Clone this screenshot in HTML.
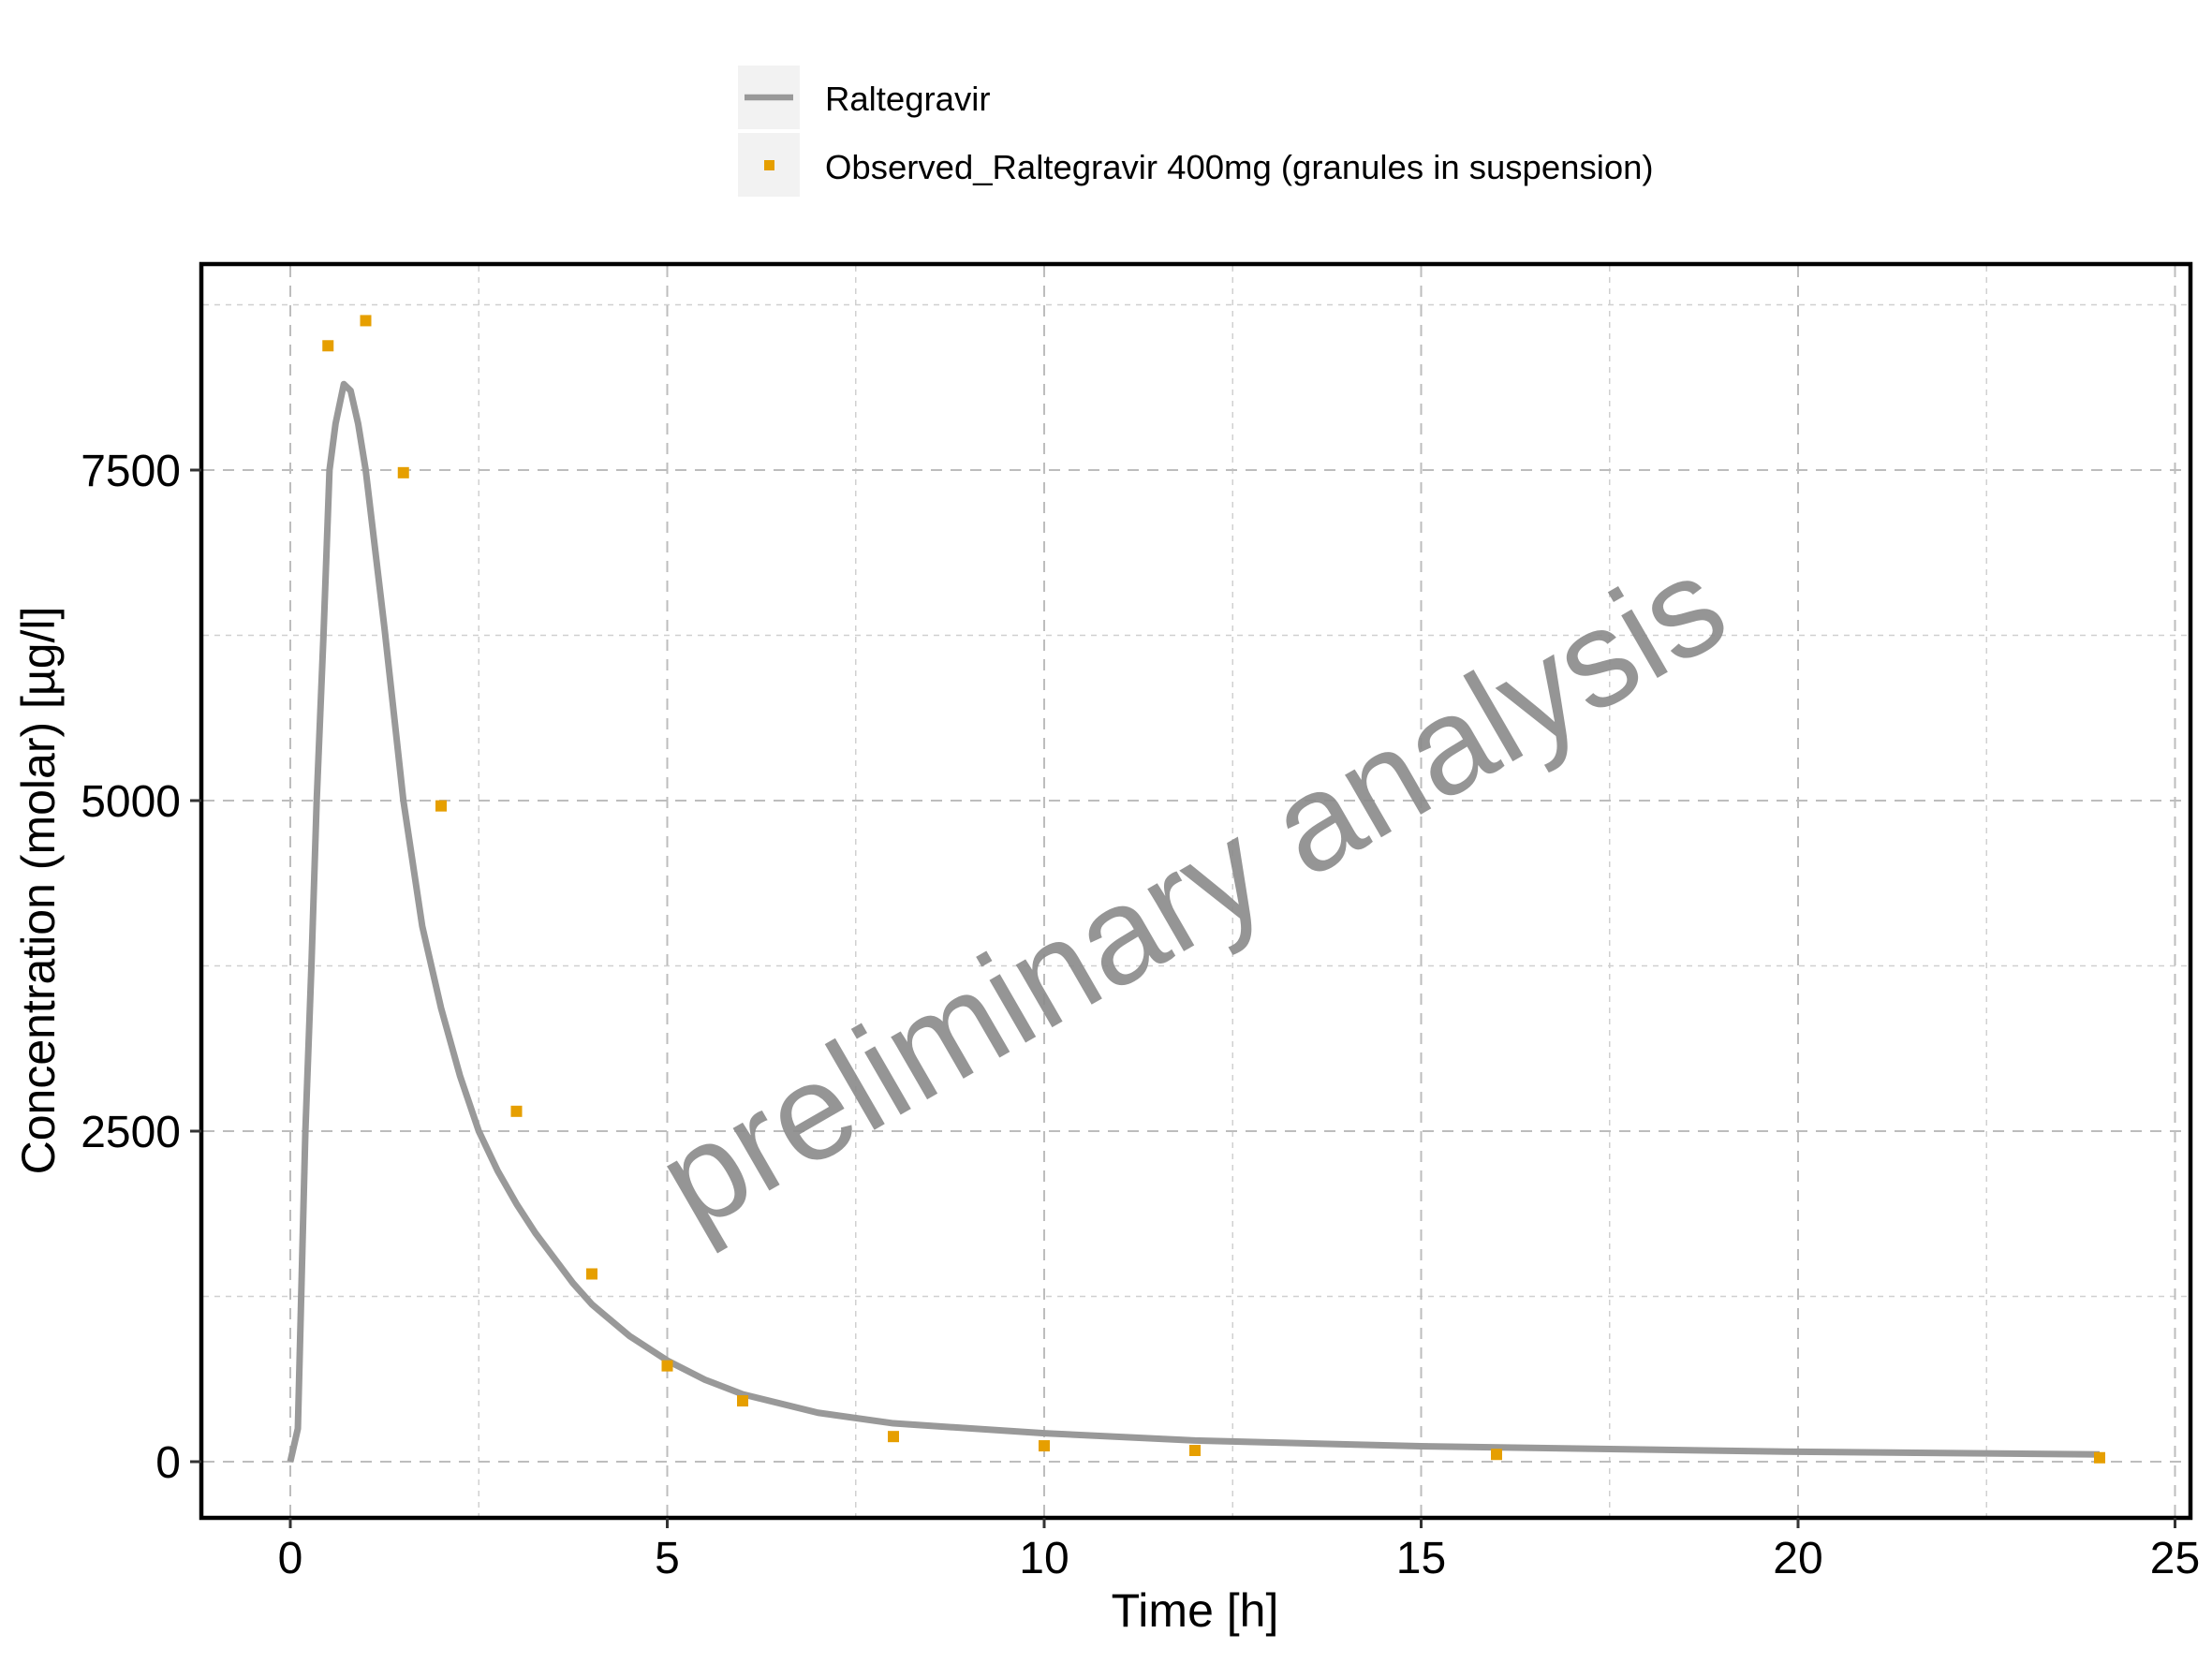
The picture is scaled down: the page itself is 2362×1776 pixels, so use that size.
<!DOCTYPE html>
<html><head><meta charset="utf-8"><style>
html,body{margin:0;padding:0;background:#fff}
svg text{font-family:"Liberation Sans",Arial,sans-serif}
</style></head><body>
<svg id="chart" width="2362" height="1771" viewBox="0 0 2362 1771" xmlns="http://www.w3.org/2000/svg">
<rect width="2362" height="1771" fill="#fff"/>
<g id="grid"></g>
<g id="series"></g>
<rect x="215" y="282" width="2124" height="1339" fill="none" stroke="#000" stroke-width="4.5"/>
<g id="axes"></g>
<text x="1285" y="1000" font-size="146" fill="#8a8a8a" fill-opacity="0.9" text-anchor="middle" transform="rotate(-30 1285 975)">preliminary analysis</text>
<text x="1276" y="1737" font-size="50" text-anchor="middle" fill="#000">Time [h]</text>
<text x="58" y="951" font-size="50" text-anchor="middle" fill="#000" transform="rotate(-90 58 951)">Concentration (molar) [µg/l]</text>
<g>
<rect x="788" y="70" width="66" height="68" fill="#f2f2f2"/>
<line x1="795" y1="104" x2="847" y2="104" stroke="#999" stroke-width="6.5"/>
<text x="881" y="118" font-size="36.5" fill="#000">Raltegravir</text>
<rect x="788" y="142" width="66" height="68" fill="#f2f2f2"/>
<rect x="816" y="171" width="11" height="11" fill="#E69F00"/>
<text x="881" y="191" font-size="36.5" fill="#000">Observed_Raltegravir 400mg (granules in suspension)</text>
</g>
</svg>
<script>
const xTicks=[0,5,10,15,20,25];
const xMinor=[2.5,7.5,12.5,17.5,22.5];
const yTicks=[0,2500,5000,7500];
const yMinor=[1250,3750,6250,8750];
const simTime=[0,0.1,0.2,0.28,0.35,0.44,0.52,0.6,0.71,0.8,0.9,1.0,1.25,1.5,1.75,2,2.25,2.5,2.75,3,3.25,3.5,3.75,4,4.5,5,5.5,6,7,8,10,12,15,20,24];
const simConc=[0,250,2500,3750,5000,6250,7500,7850,8150,8100,7850,7500,6300,5000,4050,3430,2920,2500,2200,1950,1730,1540,1350,1190,950,765,620,510,370,290,215,160,117,75,55];
const obsTime=[0.5,1,1.5,2,3,4,5,6,8,10,12,16,24];
const obsConc=[8440,8630,7480,4960,2650,1420,725,460,190,120,85,55,30];
const NS='http://www.w3.org/2000/svg';
function sx(v){return 310+v*80.5;}
function sy(v){return 1561-v*(353/2500);}
function el(t,a,p){const e=document.createElementNS(NS,t);for(const k in a)e.setAttribute(k,a[k]);p.appendChild(e);return e;}
const grid=document.getElementById('grid'),axes=document.getElementById('axes'),ser=document.getElementById('series');
xMinor.forEach(v=>{const l=el('line',{x1:sx(v),x2:sx(v),y1:284,y2:1619,stroke:'#d0d0d0','stroke-width':1.5,'stroke-dasharray':'6 6'},grid);

});
yMinor.forEach(v=>{const l=el('line',{x1:217,x2:2337,y1:sy(v),y2:sy(v),stroke:'#d0d0d0','stroke-width':1.5,'stroke-dasharray':'6 6'},grid);

});
xTicks.forEach(v=>{const l=el('line',{x1:sx(v),x2:sx(v),y1:284,y2:1619,stroke:'#bdbdbd','stroke-width':2,'stroke-dasharray':'12 9'},grid);


const t=el('line',{x1:sx(v),x2:sx(v),y1:1621,y2:1632,stroke:'#333','stroke-width':3},axes);


const tx=el('text',{x:sx(v),y:1680,'font-size':48,'text-anchor':'middle',fill:'#000'},axes);tx.textContent=v;

});
yTicks.forEach(v=>{const l=el('line',{x1:217,x2:2337,y1:sy(v),y2:sy(v),stroke:'#bdbdbd','stroke-width':2,'stroke-dasharray':'12 9'},grid);


const t=el('line',{x1:203,x2:215,y1:sy(v),y2:sy(v),stroke:'#333','stroke-width':3},axes);


const tx=el('text',{x:193,y:sy(v)+17,'font-size':48,'text-anchor':'end',fill:'#000'},axes);tx.textContent=v;

});
const pts=simTime.map((t,i)=>sx(t)+','+sy(simConc[i])).join(' ');
const pl=el('polyline',{points:pts,fill:'none',stroke:'#999','stroke-width':7,'stroke-linejoin':'round'},ser);


obsTime.forEach((t,i)=>{const r=el('rect',{x:sx(t)-6,y:sy(obsConc[i])-6,width:12,height:12,fill:'#E69F00'},ser);

});
</script>
</body></html>
